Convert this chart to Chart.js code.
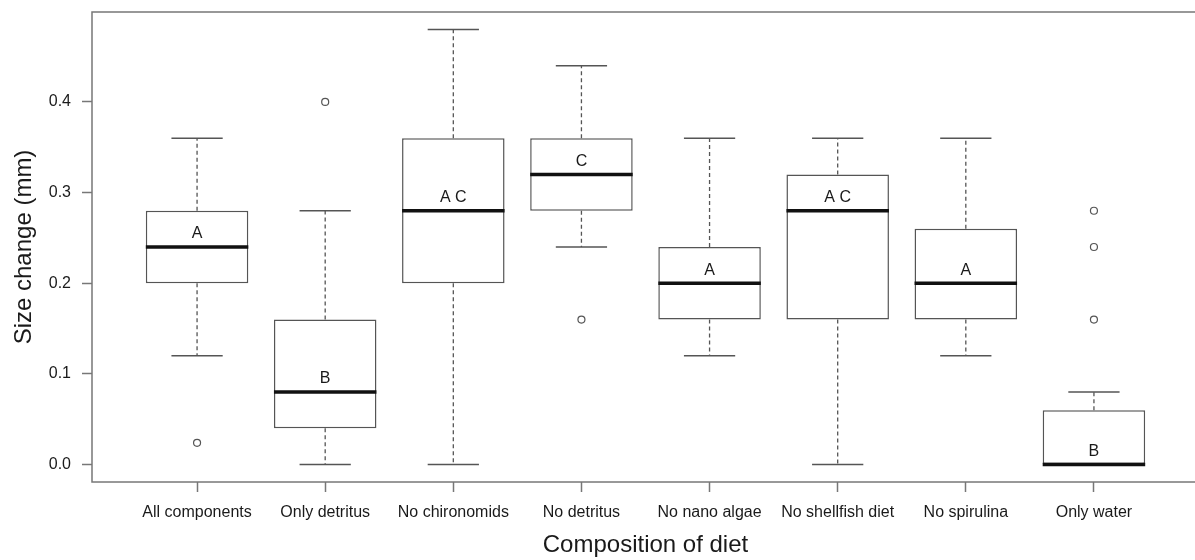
<!DOCTYPE html>
<html>
<head>
<meta charset="utf-8">
<script src="https://cdn.jsdelivr.net/npm/chart.js@4/dist/chart.umd.min.js"></script>
<style>
  html, body { margin: 0; padding: 0; background: #fff; overflow: hidden; }
  #wrap { width: 1195px; height: 560px; overflow: hidden; }
  canvas { display: block; }
</style>
</head>
<body>
<div id="wrap"><canvas id="dietChart" width="1210" height="560"></canvas></div>
<script>
// Diet groups and their size-change summaries (mm)
const categories = ['All components', 'Only detritus', 'No chironomids', 'No detritus',
                    'No nano algae', 'No shellfish diet', 'No spirulina', 'Only water'];
const whiskerLow  = [0.12, 0.00, 0.00, 0.24, 0.12, 0.00, 0.12, 0.00];
const boxLow      = [0.20, 0.04, 0.20, 0.28, 0.16, 0.16, 0.16, 0.00];
const medians     = [0.24, 0.08, 0.28, 0.32, 0.20, 0.28, 0.20, 0.00];
const boxHigh     = [0.28, 0.16, 0.36, 0.36, 0.24, 0.32, 0.26, 0.06];
const whiskerHigh = [0.36, 0.28, 0.48, 0.44, 0.36, 0.36, 0.36, 0.08];
const groupLetters = ['A', 'B', 'A C', 'C', 'A', 'A C', 'A', 'B'];

// outliers: group number (1-based) and value
const outlierGroup = [1, 2, 4, 8, 8, 8];
const outlierValue = [0.024, 0.40, 0.16, 0.16, 0.24, 0.28];

const yTicks = [0, 0.1, 0.2, 0.3, 0.4];

const FONT = '"Liberation Sans", Arial, Helvetica, sans-serif';
const frameColor = '#777';
const lineColor = '#555';

// whiskers, staples, medians and group letters
const boxExtras = {
    id: 'boxExtras',
    beforeDatasetsDraw(chart) {
        const { ctx, scales: { x, y } } = chart;
        const unit = x.getPixelForValue(2) - x.getPixelForValue(1);
        ctx.save();
        ctx.strokeStyle = lineColor;
        categories.forEach((c, i) => {
            const cx = x.getPixelForValue(i + 1);
            // dashed whiskers
            ctx.lineWidth = 1.3;
            ctx.setLineDash([4, 3]);
            ctx.beginPath();
            ctx.moveTo(cx, y.getPixelForValue(boxHigh[i]));
            ctx.lineTo(cx, y.getPixelForValue(whiskerHigh[i]));
            ctx.moveTo(cx, y.getPixelForValue(boxLow[i]));
            ctx.lineTo(cx, y.getPixelForValue(whiskerLow[i]));
            ctx.stroke();
            // staples
            ctx.setLineDash([]);
            ctx.lineWidth = 1.5;
            ctx.beginPath();
            [whiskerHigh[i], whiskerLow[i]].forEach(v => {
                const py = y.getPixelForValue(v);
                ctx.moveTo(cx - unit * 0.2, py);
                ctx.lineTo(cx + unit * 0.2, py);
            });
            ctx.stroke();
        });
        ctx.restore();
    },
    afterDatasetsDraw(chart) {
        const { ctx, scales: { x, y } } = chart;
        const unit = x.getPixelForValue(2) - x.getPixelForValue(1);
        ctx.save();
        categories.forEach((c, i) => {
            const cx = x.getPixelForValue(i + 1);
            const py = y.getPixelForValue(medians[i]);
            ctx.strokeStyle = '#111';
            ctx.lineWidth = 3.5;
            ctx.beginPath();
            ctx.moveTo(cx - unit * 0.4, py);
            ctx.lineTo(cx + unit * 0.4, py);
            ctx.stroke();

            // letter just above the median
            ctx.fillStyle = '#1a1a1a';
            ctx.font = '16px ' + FONT;
            ctx.textAlign = 'center';
            ctx.textBaseline = 'middle';
            ctx.fillText(groupLetters[i], cx, y.getPixelForValue(medians[i] + 0.0145));
        });
        ctx.restore();
    },
    afterDraw(chart) {
        // plot frame
        const { ctx, chartArea: a } = chart;
        ctx.save();
        ctx.strokeStyle = frameColor;
        ctx.lineWidth = 1.5;
        ctx.strokeRect(a.left, a.top, a.right - a.left, a.bottom - a.top);
        ctx.restore();
    }
};

const ctx = document.getElementById('dietChart').getContext('2d');

new Chart(ctx, {
    data: {
        datasets: [{
            type: 'bar',
            data: categories.map((c, i) => ({ x: i + 1, y: [boxLow[i], boxHigh[i]] })),
            backgroundColor: '#fff',
            borderColor: lineColor,
            borderWidth: 1.5,
            borderSkipped: false,
            barPercentage: 0.8,
            categoryPercentage: 1.0
        }, {
            type: 'scatter',
            data: outlierGroup.map((g, i) => ({ x: g, y: outlierValue[i] })),
            pointRadius: 3.5,
            pointBorderWidth: 1.2,
            pointBorderColor: lineColor,
            pointBackgroundColor: 'rgba(0,0,0,0)'
        }]
    },
    options: {
        responsive: false,
        devicePixelRatio: 1,
        animation: false,
        layout: { padding: { top: 12, right: 11, left: 0, bottom: 0 } },
        plugins: {
            legend: { display: false },
            tooltip: { enabled: false }
        },
        scales: {
            x: {
                type: 'linear',
                min: 0.18,
                max: 8.82,
                offset: false,
                afterBuildTicks: scale => { scale.ticks = categories.map((c, i) => ({ value: i + 1 })); },
                afterFit: scale => {
                    scale.height = 78;
                    scale.paddingLeft = 0;
                    scale.paddingRight = 0;
                },
                ticks: {
                    autoSkip: false,
                    maxRotation: 0,
                    padding: 11,
                    color: '#1a1a1a',
                    font: { family: FONT, size: 16 },
                    callback: v => categories[v - 1]
                },
                grid: { offset: false, drawOnChartArea: false, drawTicks: true, tickLength: 10, tickColor: frameColor, tickWidth: 1.5 },
                border: { display: false },
                title: {
                    display: true,
                    text: 'Composition of diet',
                    color: '#1a1a1a',
                    font: { family: FONT, size: 24 },
                    padding: { top: 0, bottom: 0 }
                }
            },
            y: {
                min: -0.0192,
                max: 0.4992,
                afterBuildTicks: scale => { scale.ticks = yTicks.map(v => ({ value: v })); },
                afterFit: scale => {
                    scale.width = 92;
                    scale.paddingTop = 0;
                    scale.paddingBottom = 0;
                },
                ticks: {
                    padding: 11,
                    color: '#1a1a1a',
                    font: { family: FONT, size: 16 },
                    callback: v => v.toFixed(1)
                },
                grid: { drawOnChartArea: false, drawTicks: true, tickLength: 10, tickColor: frameColor, tickWidth: 1.5 },
                border: { display: false },
                title: {
                    display: true,
                    text: 'Size change (mm)',
                    color: '#1a1a1a',
                    font: { family: FONT, size: 24 },
                    padding: { top: 10, bottom: 0 }
                }
            }
        }
    },
    plugins: [boxExtras]
});
</script>
</body>
</html>
